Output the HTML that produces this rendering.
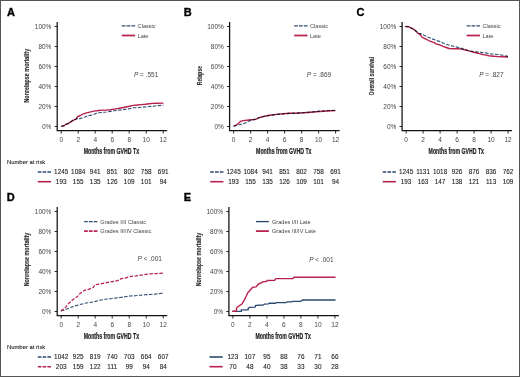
<!DOCTYPE html>
<html><head><meta charset="utf-8"><style>
html,body{margin:0;padding:0;background:#fff;}
body{width:520px;height:377px;overflow:hidden;font-family:"Liberation Sans",sans-serif;}
svg{display:block;filter:blur(0.3px);}
.lt{fill:#444;}
.rk{fill:#222;stroke:#222;stroke-width:0.1px;}
.ax{fill:#222;stroke:#222;stroke-width:0.22px;}
.ay{fill:#2a2a2a;stroke:#2a2a2a;stroke-width:0.12px;}
</style></head><body>
<svg width="520" height="377" viewBox="0 0 520 377">
<rect x="0" y="0" width="520" height="377" fill="#fff"/>
<text x="7" y="16.2" style="font-family:'Liberation Sans',sans-serif;font-weight:bold;font-size:11px" fill="#000" stroke="#000" stroke-width="0.35">A</text>
<path d="M57.2 22V130.5H167.2" fill="none" stroke="#111" stroke-width="1.25"/>
<path d="M54.6 126.5H57.2" stroke="#111" stroke-width="0.9"/>
<text x="51.4" y="128.85" text-anchor="end" class="lt" style="font-family:'Liberation Sans',sans-serif;font-size:6.5px">0%</text>
<path d="M54.6 106.5H57.2" stroke="#111" stroke-width="0.9"/>
<text x="51.4" y="108.85" text-anchor="end" class="lt" style="font-family:'Liberation Sans',sans-serif;font-size:6.5px">20%</text>
<path d="M54.6 86.5H57.2" stroke="#111" stroke-width="0.9"/>
<text x="51.4" y="88.85" text-anchor="end" class="lt" style="font-family:'Liberation Sans',sans-serif;font-size:6.5px">40%</text>
<path d="M54.6 66.5H57.2" stroke="#111" stroke-width="0.9"/>
<text x="51.4" y="68.85" text-anchor="end" class="lt" style="font-family:'Liberation Sans',sans-serif;font-size:6.5px">60%</text>
<path d="M54.6 46.5H57.2" stroke="#111" stroke-width="0.9"/>
<text x="51.4" y="48.85" text-anchor="end" class="lt" style="font-family:'Liberation Sans',sans-serif;font-size:6.5px">80%</text>
<path d="M54.6 26.5H57.2" stroke="#111" stroke-width="0.9"/>
<text x="51.4" y="28.85" text-anchor="end" class="lt" style="font-family:'Liberation Sans',sans-serif;font-size:6.5px">100%</text>
<path d="M61.2 130.5V133.5" stroke="#111" stroke-width="0.9"/>
<text x="61.2" y="141.9" text-anchor="middle" class="lt" style="font-family:'Liberation Sans',sans-serif;font-size:6.5px">0</text>
<path d="M78.2 130.5V133.5" stroke="#111" stroke-width="0.9"/>
<text x="78.2" y="141.9" text-anchor="middle" class="lt" style="font-family:'Liberation Sans',sans-serif;font-size:6.5px">2</text>
<path d="M95.2 130.5V133.5" stroke="#111" stroke-width="0.9"/>
<text x="95.2" y="141.9" text-anchor="middle" class="lt" style="font-family:'Liberation Sans',sans-serif;font-size:6.5px">4</text>
<path d="M112.2 130.5V133.5" stroke="#111" stroke-width="0.9"/>
<text x="112.2" y="141.9" text-anchor="middle" class="lt" style="font-family:'Liberation Sans',sans-serif;font-size:6.5px">6</text>
<path d="M129.2 130.5V133.5" stroke="#111" stroke-width="0.9"/>
<text x="129.2" y="141.9" text-anchor="middle" class="lt" style="font-family:'Liberation Sans',sans-serif;font-size:6.5px">8</text>
<path d="M146.2 130.5V133.5" stroke="#111" stroke-width="0.9"/>
<text x="146.2" y="141.9" text-anchor="middle" class="lt" style="font-family:'Liberation Sans',sans-serif;font-size:6.5px">10</text>
<path d="M163.2 130.5V133.5" stroke="#111" stroke-width="0.9"/>
<text x="163.2" y="141.9" text-anchor="middle" class="lt" style="font-family:'Liberation Sans',sans-serif;font-size:6.5px">12</text>
<text x="111.4" y="153.5" text-anchor="middle" textLength="55.4" lengthAdjust="spacingAndGlyphs" class="ax" style="font-family:'Liberation Sans',sans-serif;font-weight:bold;font-size:8.8px">Months from GVHD Tx</text>
<text transform="translate(29.4 75.7) rotate(-90)" x="0" y="0" text-anchor="middle" textLength="53.7" lengthAdjust="spacingAndGlyphs" class="ay" style="font-family:'Liberation Sans',sans-serif;font-weight:bold;font-size:7.6px">Nonrelapse mortality</text>
<path d="M121.8 25.9H135.1" stroke="#2c4a70" stroke-width="1.35" stroke-dasharray="3.7 1.1"/>
<text x="137.6" y="27.9" class="lt" style="font-family:'Liberation Sans',sans-serif;font-size:5.6px">Classic</text>
<path d="M121.8 35.5H135.1" stroke="#b8224c" stroke-width="1.75"/>
<text x="137.6" y="37.5" class="lt" style="font-family:'Liberation Sans',sans-serif;font-size:5.6px">Late</text>
<text x="133.9" y="77.2" class="lt" style="font-family:'Liberation Sans',sans-serif;font-size:6.5px"><tspan font-style="italic">P</tspan> = .551</text>
<text x="6.9" y="164" textLength="38.4" lengthAdjust="spacingAndGlyphs" class="rk" style="font-family:'Liberation Sans',sans-serif;font-size:6.2px">Number at risk</text>
<path d="M37.8 172H51" stroke="#2c4a70" stroke-width="1.6" stroke-dasharray="3.6 1.2"/>
<text x="61.2" y="174.3" text-anchor="middle" class="rk" style="font-family:'Liberation Sans',sans-serif;font-size:6.4px">1245</text>
<text x="78.2" y="174.3" text-anchor="middle" class="rk" style="font-family:'Liberation Sans',sans-serif;font-size:6.4px">1084</text>
<text x="95.2" y="174.3" text-anchor="middle" class="rk" style="font-family:'Liberation Sans',sans-serif;font-size:6.4px">941</text>
<text x="112.2" y="174.3" text-anchor="middle" class="rk" style="font-family:'Liberation Sans',sans-serif;font-size:6.4px">851</text>
<text x="129.2" y="174.3" text-anchor="middle" class="rk" style="font-family:'Liberation Sans',sans-serif;font-size:6.4px">802</text>
<text x="146.2" y="174.3" text-anchor="middle" class="rk" style="font-family:'Liberation Sans',sans-serif;font-size:6.4px">758</text>
<text x="163.2" y="174.3" text-anchor="middle" class="rk" style="font-family:'Liberation Sans',sans-serif;font-size:6.4px">691</text>
<path d="M37.8 181.7H51" stroke="#b8224c" stroke-width="1.6"/>
<text x="61.2" y="184" text-anchor="middle" class="rk" style="font-family:'Liberation Sans',sans-serif;font-size:6.4px">193</text>
<text x="78.2" y="184" text-anchor="middle" class="rk" style="font-family:'Liberation Sans',sans-serif;font-size:6.4px">155</text>
<text x="95.2" y="184" text-anchor="middle" class="rk" style="font-family:'Liberation Sans',sans-serif;font-size:6.4px">135</text>
<text x="112.2" y="184" text-anchor="middle" class="rk" style="font-family:'Liberation Sans',sans-serif;font-size:6.4px">126</text>
<text x="129.2" y="184" text-anchor="middle" class="rk" style="font-family:'Liberation Sans',sans-serif;font-size:6.4px">109</text>
<text x="146.2" y="184" text-anchor="middle" class="rk" style="font-family:'Liberation Sans',sans-serif;font-size:6.4px">101</text>
<text x="163.2" y="184" text-anchor="middle" class="rk" style="font-family:'Liberation Sans',sans-serif;font-size:6.4px">94</text>
<path d="M61.2 126.2 L64 125.8 L66 124.3 L68.3 123.5 L70.7 121.9 L73.1 120.3 L76.3 118.9 L77.1 118.6 L80.3 118.6 L81.9 117.9 L85 116.9 L88.2 115.7 L92.2 115 L95.4 113.7 L98.8 112.8 L102.7 112.3 L106.5 112 L110.4 111.4 L114.2 110.8 L118.1 110.2 L121.9 109.8 L125.8 109.2 L129.6 108.7 L133.8 107.8 L137.7 107.7 L141.5 107.2 L145.4 106.9 L149.2 106.5 L153.1 106.2 L156.9 105.7 L163.5 105.2" fill="none" stroke="#2c4a70" stroke-width="1.1" stroke-linejoin="round" stroke-dasharray="3.5 1.5"/>
<path d="M61.2 126.2 L64 125.8 L66 124.3 L68.3 123.5 L70.7 121.9 L73.1 120.3 L76.3 118.9 L77.5 116.7 L80.3 115.5 L83.4 113.9 L86.6 112.9 L89.8 112.1 L93.8 111.1 L98.8 110.5 L102.7 110.1 L106.5 110.1 L110.4 109.7 L114.2 109.1 L118.1 108.5 L121.9 107.8 L125.8 107 L129.6 106.2 L133.1 105.4 L137.7 105 L141.5 104.6 L145.4 104.2 L149.2 103.7 L153.1 103.4 L156.9 103.2 L163.5 103.1" fill="none" stroke="#b8224c" stroke-width="1.4" stroke-linejoin="round" style="mix-blend-mode:multiply"/>
<text x="183.8" y="16.2" style="font-family:'Liberation Sans',sans-serif;font-weight:bold;font-size:11px" fill="#000" stroke="#000" stroke-width="0.35">B</text>
<path d="M229.6 22V130.5H339.6" fill="none" stroke="#111" stroke-width="1.25"/>
<path d="M227 126.5H229.6" stroke="#111" stroke-width="0.9"/>
<text x="223.8" y="128.85" text-anchor="end" class="lt" style="font-family:'Liberation Sans',sans-serif;font-size:6.5px">0%</text>
<path d="M227 106.5H229.6" stroke="#111" stroke-width="0.9"/>
<text x="223.8" y="108.85" text-anchor="end" class="lt" style="font-family:'Liberation Sans',sans-serif;font-size:6.5px">20%</text>
<path d="M227 86.5H229.6" stroke="#111" stroke-width="0.9"/>
<text x="223.8" y="88.85" text-anchor="end" class="lt" style="font-family:'Liberation Sans',sans-serif;font-size:6.5px">40%</text>
<path d="M227 66.5H229.6" stroke="#111" stroke-width="0.9"/>
<text x="223.8" y="68.85" text-anchor="end" class="lt" style="font-family:'Liberation Sans',sans-serif;font-size:6.5px">60%</text>
<path d="M227 46.5H229.6" stroke="#111" stroke-width="0.9"/>
<text x="223.8" y="48.85" text-anchor="end" class="lt" style="font-family:'Liberation Sans',sans-serif;font-size:6.5px">80%</text>
<path d="M227 26.5H229.6" stroke="#111" stroke-width="0.9"/>
<text x="223.8" y="28.85" text-anchor="end" class="lt" style="font-family:'Liberation Sans',sans-serif;font-size:6.5px">100%</text>
<path d="M233.6 130.5V133.5" stroke="#111" stroke-width="0.9"/>
<text x="233.6" y="141.9" text-anchor="middle" class="lt" style="font-family:'Liberation Sans',sans-serif;font-size:6.5px">0</text>
<path d="M250.6 130.5V133.5" stroke="#111" stroke-width="0.9"/>
<text x="250.6" y="141.9" text-anchor="middle" class="lt" style="font-family:'Liberation Sans',sans-serif;font-size:6.5px">2</text>
<path d="M267.6 130.5V133.5" stroke="#111" stroke-width="0.9"/>
<text x="267.6" y="141.9" text-anchor="middle" class="lt" style="font-family:'Liberation Sans',sans-serif;font-size:6.5px">4</text>
<path d="M284.6 130.5V133.5" stroke="#111" stroke-width="0.9"/>
<text x="284.6" y="141.9" text-anchor="middle" class="lt" style="font-family:'Liberation Sans',sans-serif;font-size:6.5px">6</text>
<path d="M301.6 130.5V133.5" stroke="#111" stroke-width="0.9"/>
<text x="301.6" y="141.9" text-anchor="middle" class="lt" style="font-family:'Liberation Sans',sans-serif;font-size:6.5px">8</text>
<path d="M318.6 130.5V133.5" stroke="#111" stroke-width="0.9"/>
<text x="318.6" y="141.9" text-anchor="middle" class="lt" style="font-family:'Liberation Sans',sans-serif;font-size:6.5px">10</text>
<path d="M335.6 130.5V133.5" stroke="#111" stroke-width="0.9"/>
<text x="335.6" y="141.9" text-anchor="middle" class="lt" style="font-family:'Liberation Sans',sans-serif;font-size:6.5px">12</text>
<text x="283.8" y="153.5" text-anchor="middle" textLength="55.4" lengthAdjust="spacingAndGlyphs" class="ax" style="font-family:'Liberation Sans',sans-serif;font-weight:bold;font-size:8.8px">Months from GVHD Tx</text>
<text transform="translate(201.8 75.6) rotate(-90)" x="0" y="0" text-anchor="middle" textLength="19.1" lengthAdjust="spacingAndGlyphs" class="ay" style="font-family:'Liberation Sans',sans-serif;font-weight:bold;font-size:7.6px">Relapse</text>
<path d="M294.2 25.9H307.5" stroke="#2c4a70" stroke-width="1.35" stroke-dasharray="3.7 1.1"/>
<text x="310" y="27.9" class="lt" style="font-family:'Liberation Sans',sans-serif;font-size:5.6px">Classic</text>
<path d="M294.2 35.5H307.5" stroke="#b8224c" stroke-width="1.75"/>
<text x="310" y="37.5" class="lt" style="font-family:'Liberation Sans',sans-serif;font-size:5.6px">Late</text>
<text x="306.8" y="77" class="lt" style="font-family:'Liberation Sans',sans-serif;font-size:6.5px"><tspan font-style="italic">P</tspan> = .869</text>
<path d="M210.2 172H223.4" stroke="#2c4a70" stroke-width="1.6" stroke-dasharray="3.6 1.2"/>
<text x="233.6" y="174.3" text-anchor="middle" class="rk" style="font-family:'Liberation Sans',sans-serif;font-size:6.4px">1245</text>
<text x="250.6" y="174.3" text-anchor="middle" class="rk" style="font-family:'Liberation Sans',sans-serif;font-size:6.4px">1084</text>
<text x="267.6" y="174.3" text-anchor="middle" class="rk" style="font-family:'Liberation Sans',sans-serif;font-size:6.4px">941</text>
<text x="284.6" y="174.3" text-anchor="middle" class="rk" style="font-family:'Liberation Sans',sans-serif;font-size:6.4px">851</text>
<text x="301.6" y="174.3" text-anchor="middle" class="rk" style="font-family:'Liberation Sans',sans-serif;font-size:6.4px">802</text>
<text x="318.6" y="174.3" text-anchor="middle" class="rk" style="font-family:'Liberation Sans',sans-serif;font-size:6.4px">758</text>
<text x="335.6" y="174.3" text-anchor="middle" class="rk" style="font-family:'Liberation Sans',sans-serif;font-size:6.4px">691</text>
<path d="M210.2 181.7H223.4" stroke="#b8224c" stroke-width="1.6"/>
<text x="233.6" y="184" text-anchor="middle" class="rk" style="font-family:'Liberation Sans',sans-serif;font-size:6.4px">193</text>
<text x="250.6" y="184" text-anchor="middle" class="rk" style="font-family:'Liberation Sans',sans-serif;font-size:6.4px">155</text>
<text x="267.6" y="184" text-anchor="middle" class="rk" style="font-family:'Liberation Sans',sans-serif;font-size:6.4px">135</text>
<text x="284.6" y="184" text-anchor="middle" class="rk" style="font-family:'Liberation Sans',sans-serif;font-size:6.4px">126</text>
<text x="301.6" y="184" text-anchor="middle" class="rk" style="font-family:'Liberation Sans',sans-serif;font-size:6.4px">109</text>
<text x="318.6" y="184" text-anchor="middle" class="rk" style="font-family:'Liberation Sans',sans-serif;font-size:6.4px">101</text>
<text x="335.6" y="184" text-anchor="middle" class="rk" style="font-family:'Liberation Sans',sans-serif;font-size:6.4px">94</text>
<path d="M233.5 126.2 L236.2 125.4 L238.5 124.8 L240 124.5 L243.1 123.8 L247.3 122.2 L250 120.6 L253.8 119.6 L256.2 119.2 L258.5 118 L260.8 117.3 L263.8 116.5 L266.9 115.9 L270 115.3 L276.1 114.5 L283.1 113.9 L289.4 113.4 L296.5 113.1 L308.1 112.3 L319.6 111.1 L331.1 110.5 L335.5 110.4" fill="none" stroke="#2c4a70" stroke-width="1.1" stroke-linejoin="round" stroke-dasharray="3.5 1.5"/>
<path d="M233.5 126.2 L236.2 125.2 L238.5 123.3 L240.4 121.4 L243.1 120.6 L246.9 120.2 L250.8 119.8 L253.8 119.5 L256.2 119.1 L258.5 117.9 L260.8 117.2 L263.8 116.4 L266.9 115.8 L270 115.2 L276.1 114.4 L283.1 113.8 L289.4 113.3 L296.5 113.3 L308.1 112.5 L319.6 111.5 L331.1 110.7 L335.5 110.6" fill="none" stroke="#b8224c" stroke-width="1.4" stroke-linejoin="round" style="mix-blend-mode:multiply"/>
<text x="356.4" y="16.2" style="font-family:'Liberation Sans',sans-serif;font-weight:bold;font-size:11px" fill="#000" stroke="#000" stroke-width="0.35">C</text>
<path d="M402.1 22V130.5H512.1" fill="none" stroke="#111" stroke-width="1.25"/>
<path d="M399.5 126.5H402.1" stroke="#111" stroke-width="0.9"/>
<text x="396.3" y="128.85" text-anchor="end" class="lt" style="font-family:'Liberation Sans',sans-serif;font-size:6.5px">0%</text>
<path d="M399.5 106.5H402.1" stroke="#111" stroke-width="0.9"/>
<text x="396.3" y="108.85" text-anchor="end" class="lt" style="font-family:'Liberation Sans',sans-serif;font-size:6.5px">20%</text>
<path d="M399.5 86.5H402.1" stroke="#111" stroke-width="0.9"/>
<text x="396.3" y="88.85" text-anchor="end" class="lt" style="font-family:'Liberation Sans',sans-serif;font-size:6.5px">40%</text>
<path d="M399.5 66.5H402.1" stroke="#111" stroke-width="0.9"/>
<text x="396.3" y="68.85" text-anchor="end" class="lt" style="font-family:'Liberation Sans',sans-serif;font-size:6.5px">60%</text>
<path d="M399.5 46.5H402.1" stroke="#111" stroke-width="0.9"/>
<text x="396.3" y="48.85" text-anchor="end" class="lt" style="font-family:'Liberation Sans',sans-serif;font-size:6.5px">80%</text>
<path d="M399.5 26.5H402.1" stroke="#111" stroke-width="0.9"/>
<text x="396.3" y="28.85" text-anchor="end" class="lt" style="font-family:'Liberation Sans',sans-serif;font-size:6.5px">100%</text>
<path d="M406.1 130.5V133.5" stroke="#111" stroke-width="0.9"/>
<text x="406.1" y="141.9" text-anchor="middle" class="lt" style="font-family:'Liberation Sans',sans-serif;font-size:6.5px">0</text>
<path d="M423.1 130.5V133.5" stroke="#111" stroke-width="0.9"/>
<text x="423.1" y="141.9" text-anchor="middle" class="lt" style="font-family:'Liberation Sans',sans-serif;font-size:6.5px">2</text>
<path d="M440.1 130.5V133.5" stroke="#111" stroke-width="0.9"/>
<text x="440.1" y="141.9" text-anchor="middle" class="lt" style="font-family:'Liberation Sans',sans-serif;font-size:6.5px">4</text>
<path d="M457.1 130.5V133.5" stroke="#111" stroke-width="0.9"/>
<text x="457.1" y="141.9" text-anchor="middle" class="lt" style="font-family:'Liberation Sans',sans-serif;font-size:6.5px">6</text>
<path d="M474.1 130.5V133.5" stroke="#111" stroke-width="0.9"/>
<text x="474.1" y="141.9" text-anchor="middle" class="lt" style="font-family:'Liberation Sans',sans-serif;font-size:6.5px">8</text>
<path d="M491.1 130.5V133.5" stroke="#111" stroke-width="0.9"/>
<text x="491.1" y="141.9" text-anchor="middle" class="lt" style="font-family:'Liberation Sans',sans-serif;font-size:6.5px">10</text>
<path d="M508.1 130.5V133.5" stroke="#111" stroke-width="0.9"/>
<text x="508.1" y="141.9" text-anchor="middle" class="lt" style="font-family:'Liberation Sans',sans-serif;font-size:6.5px">12</text>
<text x="456.3" y="153.5" text-anchor="middle" textLength="55.4" lengthAdjust="spacingAndGlyphs" class="ax" style="font-family:'Liberation Sans',sans-serif;font-weight:bold;font-size:8.8px">Months from GVHD Tx</text>
<text transform="translate(374.3 76.2) rotate(-90)" x="0" y="0" text-anchor="middle" textLength="38.7" lengthAdjust="spacingAndGlyphs" class="ay" style="font-family:'Liberation Sans',sans-serif;font-weight:bold;font-size:7.6px">Overall survival</text>
<path d="M466.7 25.9H480" stroke="#2c4a70" stroke-width="1.35" stroke-dasharray="3.7 1.1"/>
<text x="482.5" y="27.9" class="lt" style="font-family:'Liberation Sans',sans-serif;font-size:5.6px">Classic</text>
<path d="M466.7 35.5H480" stroke="#b8224c" stroke-width="1.75"/>
<text x="482.5" y="37.5" class="lt" style="font-family:'Liberation Sans',sans-serif;font-size:5.6px">Late</text>
<text x="479.2" y="77" class="lt" style="font-family:'Liberation Sans',sans-serif;font-size:6.5px"><tspan font-style="italic">P</tspan> = .827</text>
<path d="M382.7 172H395.9" stroke="#2c4a70" stroke-width="1.6" stroke-dasharray="3.6 1.2"/>
<text x="406.1" y="174.3" text-anchor="middle" class="rk" style="font-family:'Liberation Sans',sans-serif;font-size:6.4px">1245</text>
<text x="423.1" y="174.3" text-anchor="middle" class="rk" style="font-family:'Liberation Sans',sans-serif;font-size:6.4px">1131</text>
<text x="440.1" y="174.3" text-anchor="middle" class="rk" style="font-family:'Liberation Sans',sans-serif;font-size:6.4px">1018</text>
<text x="457.1" y="174.3" text-anchor="middle" class="rk" style="font-family:'Liberation Sans',sans-serif;font-size:6.4px">926</text>
<text x="474.1" y="174.3" text-anchor="middle" class="rk" style="font-family:'Liberation Sans',sans-serif;font-size:6.4px">876</text>
<text x="491.1" y="174.3" text-anchor="middle" class="rk" style="font-family:'Liberation Sans',sans-serif;font-size:6.4px">836</text>
<text x="508.1" y="174.3" text-anchor="middle" class="rk" style="font-family:'Liberation Sans',sans-serif;font-size:6.4px">762</text>
<path d="M382.7 181.7H395.9" stroke="#b8224c" stroke-width="1.6"/>
<text x="406.1" y="184" text-anchor="middle" class="rk" style="font-family:'Liberation Sans',sans-serif;font-size:6.4px">193</text>
<text x="423.1" y="184" text-anchor="middle" class="rk" style="font-family:'Liberation Sans',sans-serif;font-size:6.4px">163</text>
<text x="440.1" y="184" text-anchor="middle" class="rk" style="font-family:'Liberation Sans',sans-serif;font-size:6.4px">147</text>
<text x="457.1" y="184" text-anchor="middle" class="rk" style="font-family:'Liberation Sans',sans-serif;font-size:6.4px">138</text>
<text x="474.1" y="184" text-anchor="middle" class="rk" style="font-family:'Liberation Sans',sans-serif;font-size:6.4px">121</text>
<text x="491.1" y="184" text-anchor="middle" class="rk" style="font-family:'Liberation Sans',sans-serif;font-size:6.4px">113</text>
<text x="508.1" y="184" text-anchor="middle" class="rk" style="font-family:'Liberation Sans',sans-serif;font-size:6.4px">109</text>
<path d="M405.3 26.5 L408.8 26.8 L410.7 27.8 L413 28.9 L415.3 30.5 L417.2 32.2 L418.8 33.2 L421.5 33.9 L424.5 35.5 L427.6 37 L430.7 38.3 L433.8 39.5 L436.8 40.6 L439.9 41.6 L443.1 43.1 L446.2 44.3 L449.2 45.2 L452.3 46 L455.4 46.8 L458.5 47.5 L461.5 48.4 L464.6 49.4 L467.7 50.3 L470.8 51.1 L473.8 51.6 L478.1 52 L481.2 52.4 L485 52.9 L488.8 53.5 L493.5 54.2 L498.1 54.5 L502.7 55.2 L508 56.4" fill="none" stroke="#2c4a70" stroke-width="1.1" stroke-linejoin="round" stroke-dasharray="3.5 1.5"/>
<path d="M405.3 26.5 L408.8 26.8 L410.7 27.8 L413 28.9 L415.3 30.5 L417.2 32.4 L418.8 33.9 L420.7 35.1 L421.8 37 L423.8 38.2 L426.8 39.5 L429.2 40.8 L432.2 41.8 L434.5 42.8 L436.1 43.9 L439.2 44.7 L443.1 46.4 L446.2 47.5 L449.2 48.5 L452.3 48.7 L458.5 48.6 L461.5 49.1 L464.6 49.8 L467.7 50.6 L470.8 51.4 L473.8 52.2 L478.1 53.2 L481.2 54.2 L485 54.9 L488.8 55.7 L493.5 56.2 L498.1 56.6 L502.7 56.7 L508 57" fill="none" stroke="#b8224c" stroke-width="1.4" stroke-linejoin="round" style="mix-blend-mode:multiply"/>
<text x="6.8" y="201.3" style="font-family:'Liberation Sans',sans-serif;font-weight:bold;font-size:11px" fill="#000" stroke="#000" stroke-width="0.35">D</text>
<path d="M57.2 207V315.5H167.2" fill="none" stroke="#111" stroke-width="1.25"/>
<path d="M54.6 311.5H57.2" stroke="#111" stroke-width="0.9"/>
<text x="51.4" y="313.85" text-anchor="end" class="lt" style="font-family:'Liberation Sans',sans-serif;font-size:6.5px">0%</text>
<path d="M54.6 291.5H57.2" stroke="#111" stroke-width="0.9"/>
<text x="51.4" y="293.85" text-anchor="end" class="lt" style="font-family:'Liberation Sans',sans-serif;font-size:6.5px">20%</text>
<path d="M54.6 271.5H57.2" stroke="#111" stroke-width="0.9"/>
<text x="51.4" y="273.85" text-anchor="end" class="lt" style="font-family:'Liberation Sans',sans-serif;font-size:6.5px">40%</text>
<path d="M54.6 251.5H57.2" stroke="#111" stroke-width="0.9"/>
<text x="51.4" y="253.85" text-anchor="end" class="lt" style="font-family:'Liberation Sans',sans-serif;font-size:6.5px">60%</text>
<path d="M54.6 231.5H57.2" stroke="#111" stroke-width="0.9"/>
<text x="51.4" y="233.85" text-anchor="end" class="lt" style="font-family:'Liberation Sans',sans-serif;font-size:6.5px">80%</text>
<path d="M54.6 211.5H57.2" stroke="#111" stroke-width="0.9"/>
<text x="51.4" y="213.85" text-anchor="end" class="lt" style="font-family:'Liberation Sans',sans-serif;font-size:6.5px">100%</text>
<path d="M61.2 315.5V318.5" stroke="#111" stroke-width="0.9"/>
<text x="61.2" y="326.9" text-anchor="middle" class="lt" style="font-family:'Liberation Sans',sans-serif;font-size:6.5px">0</text>
<path d="M78.2 315.5V318.5" stroke="#111" stroke-width="0.9"/>
<text x="78.2" y="326.9" text-anchor="middle" class="lt" style="font-family:'Liberation Sans',sans-serif;font-size:6.5px">2</text>
<path d="M95.2 315.5V318.5" stroke="#111" stroke-width="0.9"/>
<text x="95.2" y="326.9" text-anchor="middle" class="lt" style="font-family:'Liberation Sans',sans-serif;font-size:6.5px">4</text>
<path d="M112.2 315.5V318.5" stroke="#111" stroke-width="0.9"/>
<text x="112.2" y="326.9" text-anchor="middle" class="lt" style="font-family:'Liberation Sans',sans-serif;font-size:6.5px">6</text>
<path d="M129.2 315.5V318.5" stroke="#111" stroke-width="0.9"/>
<text x="129.2" y="326.9" text-anchor="middle" class="lt" style="font-family:'Liberation Sans',sans-serif;font-size:6.5px">8</text>
<path d="M146.2 315.5V318.5" stroke="#111" stroke-width="0.9"/>
<text x="146.2" y="326.9" text-anchor="middle" class="lt" style="font-family:'Liberation Sans',sans-serif;font-size:6.5px">10</text>
<path d="M163.2 315.5V318.5" stroke="#111" stroke-width="0.9"/>
<text x="163.2" y="326.9" text-anchor="middle" class="lt" style="font-family:'Liberation Sans',sans-serif;font-size:6.5px">12</text>
<text x="111.4" y="338.5" text-anchor="middle" textLength="55.4" lengthAdjust="spacingAndGlyphs" class="ax" style="font-family:'Liberation Sans',sans-serif;font-weight:bold;font-size:8.8px">Months from GVHD Tx</text>
<text transform="translate(29.4 259.5) rotate(-90)" x="0" y="0" text-anchor="middle" textLength="53.7" lengthAdjust="spacingAndGlyphs" class="ay" style="font-family:'Liberation Sans',sans-serif;font-weight:bold;font-size:7.6px">Nonrelapse mortality</text>
<path d="M84.1 221.6H97.4" stroke="#2c4a70" stroke-width="1.35" stroke-dasharray="3.7 1.1"/>
<text x="100.3" y="223.6" class="lt" style="font-family:'Liberation Sans',sans-serif;font-size:5.6px">Grades I/II Classic</text>
<path d="M84.1 231.1H97.4" stroke="#b8224c" stroke-width="1.75" stroke-dasharray="3.7 1.1"/>
<text x="100.3" y="233.1" class="lt" style="font-family:'Liberation Sans',sans-serif;font-size:5.6px">Grades III/IV Classic</text>
<text x="137.5" y="260.6" class="lt" style="font-family:'Liberation Sans',sans-serif;font-size:6.5px"><tspan font-style="italic">P</tspan> < .001</text>
<text x="6.9" y="349" textLength="38.4" lengthAdjust="spacingAndGlyphs" class="rk" style="font-family:'Liberation Sans',sans-serif;font-size:6.2px">Number at risk</text>
<path d="M37.8 357H51" stroke="#2c4a70" stroke-width="1.6" stroke-dasharray="3.6 1.2"/>
<text x="61.2" y="359.3" text-anchor="middle" class="rk" style="font-family:'Liberation Sans',sans-serif;font-size:6.4px">1042</text>
<text x="78.2" y="359.3" text-anchor="middle" class="rk" style="font-family:'Liberation Sans',sans-serif;font-size:6.4px">925</text>
<text x="95.2" y="359.3" text-anchor="middle" class="rk" style="font-family:'Liberation Sans',sans-serif;font-size:6.4px">819</text>
<text x="112.2" y="359.3" text-anchor="middle" class="rk" style="font-family:'Liberation Sans',sans-serif;font-size:6.4px">740</text>
<text x="129.2" y="359.3" text-anchor="middle" class="rk" style="font-family:'Liberation Sans',sans-serif;font-size:6.4px">703</text>
<text x="146.2" y="359.3" text-anchor="middle" class="rk" style="font-family:'Liberation Sans',sans-serif;font-size:6.4px">664</text>
<text x="163.2" y="359.3" text-anchor="middle" class="rk" style="font-family:'Liberation Sans',sans-serif;font-size:6.4px">607</text>
<path d="M37.8 366.7H51" stroke="#b8224c" stroke-width="1.6" stroke-dasharray="3.6 1.2"/>
<text x="61.2" y="369" text-anchor="middle" class="rk" style="font-family:'Liberation Sans',sans-serif;font-size:6.4px">203</text>
<text x="78.2" y="369" text-anchor="middle" class="rk" style="font-family:'Liberation Sans',sans-serif;font-size:6.4px">159</text>
<text x="95.2" y="369" text-anchor="middle" class="rk" style="font-family:'Liberation Sans',sans-serif;font-size:6.4px">122</text>
<text x="112.2" y="369" text-anchor="middle" class="rk" style="font-family:'Liberation Sans',sans-serif;font-size:6.4px">111</text>
<text x="129.2" y="369" text-anchor="middle" class="rk" style="font-family:'Liberation Sans',sans-serif;font-size:6.4px">99</text>
<text x="146.2" y="369" text-anchor="middle" class="rk" style="font-family:'Liberation Sans',sans-serif;font-size:6.4px">94</text>
<text x="163.2" y="369" text-anchor="middle" class="rk" style="font-family:'Liberation Sans',sans-serif;font-size:6.4px">84</text>
<path d="M60.9 310.9 L65.6 309.5 L70.4 307.6 L75.2 305.9 L80 304.5 L84.7 303.3 L89.5 302.6 L94.3 301.7 L100 300.3 L105.1 299.3 L110.1 298.8 L115.2 298.1 L120.2 297.5 L125.2 296.7 L130.3 296 L135 295.8 L140.1 295.3 L145.1 294.8 L150.2 294.5 L155.2 294.1 L160.2 293.5 L163 293" fill="none" stroke="#2c4a70" stroke-width="1.1" stroke-linejoin="round" stroke-dasharray="3.5 1.5"/>
<path d="M60.9 310.9 L64.7 308.5 L67.5 304.7 L71.4 300.9 L75.2 298 L78 296.1 L78.5 294.7 L81.9 292.3 L84.3 290.4 L88.5 289.3 L93.3 287.5 L94.8 284.9 L100 283.9 L105.1 282.9 L110.1 281.9 L115.2 281.1 L119.2 280.1 L121.2 278.6 L125.2 278.1 L128.3 277.1 L131.3 276.3 L136 275.9 L141.1 275.1 L146.1 274.3 L151.2 273.8 L156.2 273.6 L163 273.1" fill="none" stroke="#b8224c" stroke-width="1.25" stroke-linejoin="round" stroke-dasharray="3.5 1.5"/>
<text x="183.8" y="201.3" style="font-family:'Liberation Sans',sans-serif;font-weight:bold;font-size:11px" fill="#000" stroke="#000" stroke-width="0.35">E</text>
<path d="M228.9 207V315.5H338.9" fill="none" stroke="#111" stroke-width="1.25"/>
<path d="M226.3 311.5H228.9" stroke="#111" stroke-width="0.9"/>
<text x="223.1" y="313.85" text-anchor="end" class="lt" style="font-family:'Liberation Sans',sans-serif;font-size:6.5px">0%</text>
<path d="M226.3 291.5H228.9" stroke="#111" stroke-width="0.9"/>
<text x="223.1" y="293.85" text-anchor="end" class="lt" style="font-family:'Liberation Sans',sans-serif;font-size:6.5px">20%</text>
<path d="M226.3 271.5H228.9" stroke="#111" stroke-width="0.9"/>
<text x="223.1" y="273.85" text-anchor="end" class="lt" style="font-family:'Liberation Sans',sans-serif;font-size:6.5px">40%</text>
<path d="M226.3 251.5H228.9" stroke="#111" stroke-width="0.9"/>
<text x="223.1" y="253.85" text-anchor="end" class="lt" style="font-family:'Liberation Sans',sans-serif;font-size:6.5px">60%</text>
<path d="M226.3 231.5H228.9" stroke="#111" stroke-width="0.9"/>
<text x="223.1" y="233.85" text-anchor="end" class="lt" style="font-family:'Liberation Sans',sans-serif;font-size:6.5px">80%</text>
<path d="M226.3 211.5H228.9" stroke="#111" stroke-width="0.9"/>
<text x="223.1" y="213.85" text-anchor="end" class="lt" style="font-family:'Liberation Sans',sans-serif;font-size:6.5px">100%</text>
<path d="M232.9 315.5V318.5" stroke="#111" stroke-width="0.9"/>
<text x="232.9" y="326.9" text-anchor="middle" class="lt" style="font-family:'Liberation Sans',sans-serif;font-size:6.5px">0</text>
<path d="M249.9 315.5V318.5" stroke="#111" stroke-width="0.9"/>
<text x="249.9" y="326.9" text-anchor="middle" class="lt" style="font-family:'Liberation Sans',sans-serif;font-size:6.5px">2</text>
<path d="M266.9 315.5V318.5" stroke="#111" stroke-width="0.9"/>
<text x="266.9" y="326.9" text-anchor="middle" class="lt" style="font-family:'Liberation Sans',sans-serif;font-size:6.5px">4</text>
<path d="M283.9 315.5V318.5" stroke="#111" stroke-width="0.9"/>
<text x="283.9" y="326.9" text-anchor="middle" class="lt" style="font-family:'Liberation Sans',sans-serif;font-size:6.5px">6</text>
<path d="M300.9 315.5V318.5" stroke="#111" stroke-width="0.9"/>
<text x="300.9" y="326.9" text-anchor="middle" class="lt" style="font-family:'Liberation Sans',sans-serif;font-size:6.5px">8</text>
<path d="M317.9 315.5V318.5" stroke="#111" stroke-width="0.9"/>
<text x="317.9" y="326.9" text-anchor="middle" class="lt" style="font-family:'Liberation Sans',sans-serif;font-size:6.5px">10</text>
<path d="M334.9 315.5V318.5" stroke="#111" stroke-width="0.9"/>
<text x="334.9" y="326.9" text-anchor="middle" class="lt" style="font-family:'Liberation Sans',sans-serif;font-size:6.5px">12</text>
<text x="283.1" y="338.5" text-anchor="middle" textLength="55.4" lengthAdjust="spacingAndGlyphs" class="ax" style="font-family:'Liberation Sans',sans-serif;font-weight:bold;font-size:8.8px">Months from GVHD Tx</text>
<text transform="translate(201.1 259.5) rotate(-90)" x="0" y="0" text-anchor="middle" textLength="53.7" lengthAdjust="spacingAndGlyphs" class="ay" style="font-family:'Liberation Sans',sans-serif;font-weight:bold;font-size:7.6px">Nonrelapse mortality</text>
<path d="M255.9 221.6H268.9" stroke="#2c4a70" stroke-width="1.35"/>
<text x="272" y="223.6" class="lt" style="font-family:'Liberation Sans',sans-serif;font-size:5.6px">Grades I/II Late</text>
<path d="M255.9 231.1H268.9" stroke="#b8224c" stroke-width="1.75"/>
<text x="272" y="233.1" class="lt" style="font-family:'Liberation Sans',sans-serif;font-size:5.6px">Grades III/IV Late</text>
<text x="309.2" y="261.5" class="lt" style="font-family:'Liberation Sans',sans-serif;font-size:6.5px"><tspan font-style="italic">P</tspan> < .001</text>
<path d="M209.5 357H222.7" stroke="#2c4a70" stroke-width="1.6"/>
<text x="232.9" y="359.3" text-anchor="middle" class="rk" style="font-family:'Liberation Sans',sans-serif;font-size:6.4px">123</text>
<text x="249.9" y="359.3" text-anchor="middle" class="rk" style="font-family:'Liberation Sans',sans-serif;font-size:6.4px">107</text>
<text x="266.9" y="359.3" text-anchor="middle" class="rk" style="font-family:'Liberation Sans',sans-serif;font-size:6.4px">95</text>
<text x="283.9" y="359.3" text-anchor="middle" class="rk" style="font-family:'Liberation Sans',sans-serif;font-size:6.4px">88</text>
<text x="300.9" y="359.3" text-anchor="middle" class="rk" style="font-family:'Liberation Sans',sans-serif;font-size:6.4px">76</text>
<text x="317.9" y="359.3" text-anchor="middle" class="rk" style="font-family:'Liberation Sans',sans-serif;font-size:6.4px">71</text>
<text x="334.9" y="359.3" text-anchor="middle" class="rk" style="font-family:'Liberation Sans',sans-serif;font-size:6.4px">66</text>
<path d="M209.5 366.7H222.7" stroke="#b8224c" stroke-width="1.6"/>
<text x="232.9" y="369" text-anchor="middle" class="rk" style="font-family:'Liberation Sans',sans-serif;font-size:6.4px">70</text>
<text x="249.9" y="369" text-anchor="middle" class="rk" style="font-family:'Liberation Sans',sans-serif;font-size:6.4px">48</text>
<text x="266.9" y="369" text-anchor="middle" class="rk" style="font-family:'Liberation Sans',sans-serif;font-size:6.4px">40</text>
<text x="283.9" y="369" text-anchor="middle" class="rk" style="font-family:'Liberation Sans',sans-serif;font-size:6.4px">38</text>
<text x="300.9" y="369" text-anchor="middle" class="rk" style="font-family:'Liberation Sans',sans-serif;font-size:6.4px">33</text>
<text x="317.9" y="369" text-anchor="middle" class="rk" style="font-family:'Liberation Sans',sans-serif;font-size:6.4px">30</text>
<text x="334.9" y="369" text-anchor="middle" class="rk" style="font-family:'Liberation Sans',sans-serif;font-size:6.4px">28</text>
<path d="M232.3 311.3 L241.3 311.3 L241.3 309.8 L248.2 309.8 L248.2 308.4 L249.6 307.3 L255 307.1 L255.8 305.4 L263.1 305 L264.2 304.2 L268.5 303.8 L269.2 303.2 L275.4 303.2 L276.5 302.7 L286.2 302.5 L286.9 301.9 L291.4 301.8 L292.4 301.3 L300.9 301.3 L302.5 300 L335.5 300" fill="none" stroke="#2c4a70" stroke-width="1.35" stroke-linejoin="round"/>
<path d="M232.3 311.3 L236.4 311.3 L236.4 308.4 L237.5 307 L239.5 305.5 L241.8 304.1 L243.3 301.8 L244.7 299.3 L247.8 292.7 L252.7 287.2 L256 286.9 L258.4 284 L261.8 282.6 L263.2 281.6 L266.1 281.6 L267.1 280.5 L274.8 280.2 L275.7 278.6 L293 278.6 L294 277.3 L335.5 277.3" fill="none" stroke="#b8224c" stroke-width="1.4" stroke-linejoin="round"/>
<rect x="0.5" y="0.5" width="519" height="376" fill="none" stroke="#555" stroke-width="1"/>
</svg>
</body></html>
